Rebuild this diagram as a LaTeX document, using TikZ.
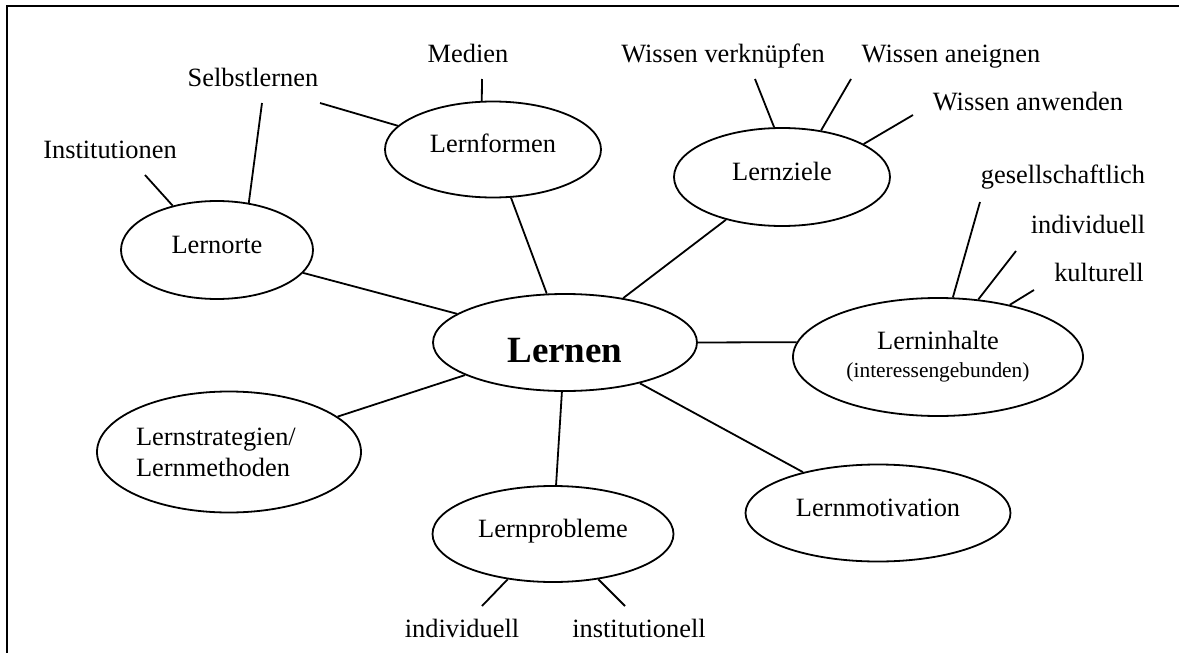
\documentclass[tikz,border=0pt]{standalone}
\usepackage{fontspec}
\setmainfont{Liberation Serif}
\usetikzlibrary{shapes.geometric}
\begin{document}
\begin{tikzpicture}[x=0.5pt,y=-0.5pt,line width=0.9pt,
 bubble/.style={draw,ellipse,inner sep=0pt,font=\fontsize{13.2}{14}\selectfont},
 single/.style={text height=.7em,text depth=.4em},
 word/.style={anchor=base,inner sep=0pt,font=\fontsize{13.2}{14}\selectfont}]
\useasboundingbox (0,0) rectangle (1179,653);
\draw[line width=1.3pt] (1179,6) -- (7,6) -- (7,653);

\node[bubble,minimum width=132pt,minimum height=48.5pt,text height=19.5pt,text depth=0pt,font=\bfseries\fontsize{18.5}{20}\selectfont] (lernen) at (565,342.5) {Lernen};
\node[bubble,single,minimum width=108pt,minimum height=48pt] (lernformen) at (493,149.5) {Lernformen};
\node[bubble,single,minimum width=96pt,minimum height=49pt] (lernorte) at (217,250) {Lernorte};
\node[bubble,single,minimum width=108pt,minimum height=49pt] (lernziele) at (782,177) {Lernziele};
\node[bubble,align=center,minimum width=145pt,minimum height=59pt] (lerninhalte) at (938,357) {Lerninhalte\\{\fontsize{10.7}{14}\selectfont(interessengebunden)}};
\node[bubble,align=left,text width=93pt,minimum width=132pt,minimum height=60.5pt] (lernstrategien) at (229,452) {Lernstrategien/\\[1.5pt]Lernmethoden};
\node[bubble,single,minimum width=120.5pt,minimum height=48pt] (lernprobleme) at (553,534) {Lernprobleme};
\node[bubble,single,minimum width=132.5pt,minimum height=48.5pt] (lernmotivation) at (878,513) {Lernmotivation};

\node[word] (medien) at (468,62) {Medien};
\node[word] (selbstlernen) at (253,86) {Selbstlernen};
\node[word] (institutionen) at (110,158) {Institutionen};
\node[word] (verknuepfen) at (723,62) {Wissen verknüpfen};
\node[word] (aneignen) at (951,62) {Wissen aneignen};
\node[word] (anwenden) at (1028,110) {Wissen anwenden};
\node[word] (gesellschaftlich) at (1063,183) {gesellschaftlich};
\node[word] (individuell) at (1088,233) {individuell};
\node[word] (kulturell) at (1099,281) {kulturell};
\node[word] (indiv) at (462,637) {individuell};
\node[word] (institutionell) at (639,637) {institutionell};

\coordinate (c-medien) at (482,79);
\coordinate (c-selbst1) at (320,103);
\coordinate (c-selbst2) at (262,103);
\coordinate (c-inst) at (145,175);
\coordinate (c-verkn) at (755,79);
\coordinate (c-aneig) at (851,79);
\coordinate (c-anwen) at (913,115);
\coordinate (c-gesell) at (980,202);
\coordinate (c-indiv) at (1016,251);
\coordinate (c-kult) at (1034,290);
\coordinate (c-indiv2) at (482,606);
\coordinate (c-instell) at (625,606);

\draw (lernen) -- (lernformen);
\draw (lernen) -- (lernorte);
\draw (lernen) -- (lernziele);
\draw (lernen.east) -- (lerninhalte.174);
\draw (lernen) -- (lernstrategien);
\draw (lernen) -- (lernprobleme);
\draw (lernen) -- (lernmotivation);

\draw (lernformen.103) -- (c-medien);
\draw (lernformen.166) -- (c-selbst1);
\draw (lernorte.56) -- (c-selbst2);
\draw (lernorte.135) -- (c-inst);
\draw (lernziele.99) -- (c-verkn);
\draw (lernziele.50) -- (c-aneig);
\draw (lernziele.22) -- (c-anwen);
\draw (lerninhalte.76) -- (c-gesell);
\draw (lerninhalte.55) -- (c-indiv);
\draw (lerninhalte.36) -- (c-kult);
\draw (lernprobleme.225) -- (c-indiv2);
\draw (lernprobleme.315) -- (c-instell);
\end{tikzpicture}
\end{document}
